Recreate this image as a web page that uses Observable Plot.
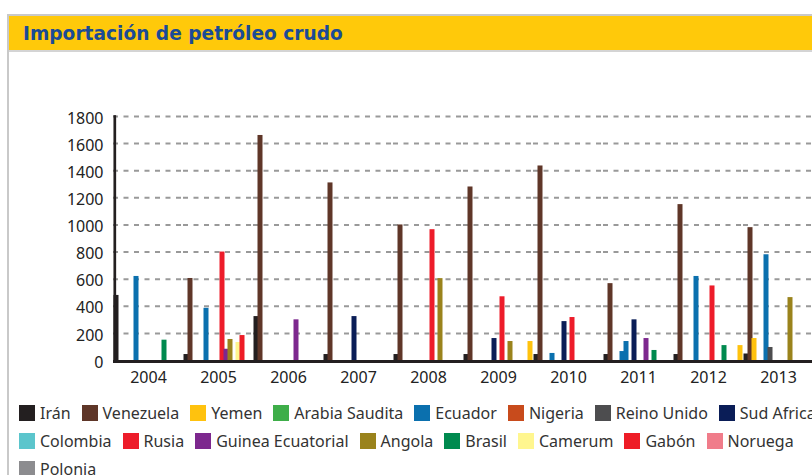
<!DOCTYPE html>
<html><head><meta charset="utf-8">
<script src="https://cdn.jsdelivr.net/npm/d3@7"></script>
<script src="https://cdn.jsdelivr.net/npm/@observablehq/plot@0.6"></script>
<style>
html,body{margin:0;padding:0;background:#fff;overflow:hidden;width:812px;height:475px;}
#box{position:absolute;left:7px;top:14px;width:1000px;height:470px;border-left:2px solid #c9c9c9;border-top:2px solid #c9c9c9;}
#title{height:34px;background:#FFC90A;border-bottom:2px solid #d4d4d4;font-family:"DejaVu Sans";font-weight:bold;font-size:18.6px;color:#1B4B96;line-height:35px;padding-left:14px;white-space:nowrap;}
#chart{position:absolute;left:1px;top:36px;}
#legend{position:absolute;left:10px;top:383px;font-family:"Noto Sans";font-size:16px;color:#333;}
.row{display:flex;height:28px;align-items:center;white-space:nowrap}
.item{display:flex;align-items:center;margin-right:11px}
.sw{width:16px;height:16px;margin-right:5px;flex:none}
</style>
</head><body>
<div id="box">
  <div id="title">Importación de petróleo crudo</div>
  <div id="chart"></div>
  <div id="legend"></div>
</div>
<script>
// Categories (years) and axis ticks
const years = ["2004","2005","2006","2007","2008","2009","2010","2011","2012","2013"];
const yTicks = [0,200,400,600,800,1000,1200,1400,1600,1800];

// Series names in legend order, and legend swatch colours
const series = ["Irán","Venezuela","Yemen","Arabia Saudita","Ecuador","Nigeria","Reino Unido","Sud Africa",
  "Colombia","Rusia","Guinea Ecuatorial","Angola","Brasil","Camerum","Gabón","Noruega","Polonia"];
const legendColors = ["#231F20","#5F3628","#FFC20E","#3EAE49","#0B70AE","#C84B1C","#4D4D4F","#0A1D57",
  "#5BC5CC","#ED1C2A","#7D288E","#9A831C","#008A4F","#FFF68F","#EE1C26","#F07C8A","#8C8C8F"];
// Bar fill colours as they appear in the bars
const barColors = ["#231F20","#5F3628","#FFC20E","#3EAE49","#0B70AE","#0B70AE","#4D4D4F","#0A1D57",
  "#5BC5CC","#ED1C2A","#7D288E","#9A831C","#008A4F","#FFF68F","#EE1C26","#F07C8A","#FFC20E"];
// Slot order of the bars inside each year group
const slotOrder = ["Irán","Venezuela","Yemen","Arabia Saudita","Nigeria","Ecuador","Reino Unido","Sud Africa",
  "Colombia","Rusia","Guinea Ecuatorial","Angola","Brasil","Camerum","Gabón","Noruega","Polonia"];

// Values per series, 2004..2013
const iran          = [480,  44, 324,   44,   44,   44,   44,  44,   44,  48];
const venezuela     = [  0, 605,1660, 1310, 1000, 1280, 1435, 567, 1150, 980];
const yemen         = [  0,   0,   0,    0,    0,    0,    0,   0,    0, 162];
const arabiaSaudita = [  0,   0,   0,    0,    0,    0,    0,   0,    0,   0];
const ecuador       = [620, 385,   0,    0,    0,    0,    0, 140,  620, 780];
const nigeria       = [  0,   0,   0,    0,    0,    0,   52,  66,    0,   0];
const reinoUnido    = [  0,   0,   0,    0,    0,    0,    0,   0,    0,  96];
const sudAfrica     = [  0,   0,   0,  324,    0,  162,  287, 300,    0,   0];
const colombia      = [  0,   0,   0,    0,    0,    0,    0,   0,    0,   0];
const rusia         = [  0, 800,   0,    0,  965,  470,  317,   0,  550,   0];
const guineaEcuat   = [  0,  83, 300,    0,    0,    0,    0, 162,    0,   0];
const angola        = [  0, 155,   0,    0,  604,  140,    0,   0,    0, 464];
const brasil        = [150,   0,   0,    0,    0,    0,    0,  74,  110,   0];
const camerum       = [  0, 133,   0,    0,    0,    0,    0,   0,    0,   0];
const gabon         = [  0, 184,   0,    0,    0,    0,    0,   0,    0,   0];
const noruega       = [  0,   0,   0,    0,    0,    0,    0,   0,    0,   0];
const polonia       = [  0,   0,   0,    0,    0,  140,    0,   0,  110,   0];

const seriesValues = [iran, venezuela, yemen, arabiaSaudita, ecuador, nigeria, reinoUnido, sudAfrica,
  colombia, rusia, guineaEcuat, angola, brasil, camerum, gabon, noruega, polonia];

const rows = [];
for (const s of slotOrder) {
  const v = seriesValues[series.indexOf(s)];
  years.forEach((y, i) => { if (v[i] > 0) rows.push({year: y, series: s, value: v[i]}); });
}

const chart = Plot.plot({
  width: 823, height: 338,
  marginLeft: 103, marginRight: 20, marginTop: 64, marginBottom: 30,
  fx: {domain: years, padding: 0, label: null},
  x: {domain: slotOrder, padding: 0, axis: null},
  y: {domain: [0, 1800], label: null},
  color: {domain: series, range: barColors},
  style: {fontFamily: "Noto Sans", fontSize: "16px", color: "#222", background: "transparent", overflow: "visible"},
  marks: [
    Plot.gridY(yTicks.filter(d => d > 0), {stroke: "#999", strokeOpacity: 1, strokeWidth: 2, strokeDasharray: "5,5.5"}),
    Plot.barY(rows, {fx: "year", x: "series", y: "value", fill: "series", insetLeft: -0.5, insetRight: -0.5}),
    Plot.ruleY([0], {stroke: "#231f20", strokeWidth: 3, dy: 1}),
    Plot.frame({anchor: "left", facetAnchor: "left", stroke: "#231f20", strokeWidth: 2.7, dx: 1.3}),
    Plot.axisY(yTicks, {tickSize: 0, tickPadding: 10, dy: 2, fontSize: 16, fill: "#222", tickFormat: d => String(d), label: null}),
    Plot.axisFx({anchor: "bottom", tickSize: 0, tickPadding: 11, fontSize: 16, fill: "#222", label: null})
  ]
});
document.getElementById("chart").appendChild(chart);

// Legend rows as in the reference
const legendRows = [series.slice(0, 8), series.slice(8, 16), series.slice(16)];
const legend = document.getElementById("legend");
for (const r of legendRows) {
  const row = document.createElement("div");
  row.className = "row";
  for (const s of r) {
    const it = document.createElement("div");
    it.className = "item";
    const sw = document.createElement("span");
    sw.className = "sw";
    sw.style.background = legendColors[series.indexOf(s)];
    const t = document.createElement("span");
    t.textContent = s;
    it.appendChild(sw); it.appendChild(t);
    row.appendChild(it);
  }
  legend.appendChild(row);
}
</script>
</body></html>
